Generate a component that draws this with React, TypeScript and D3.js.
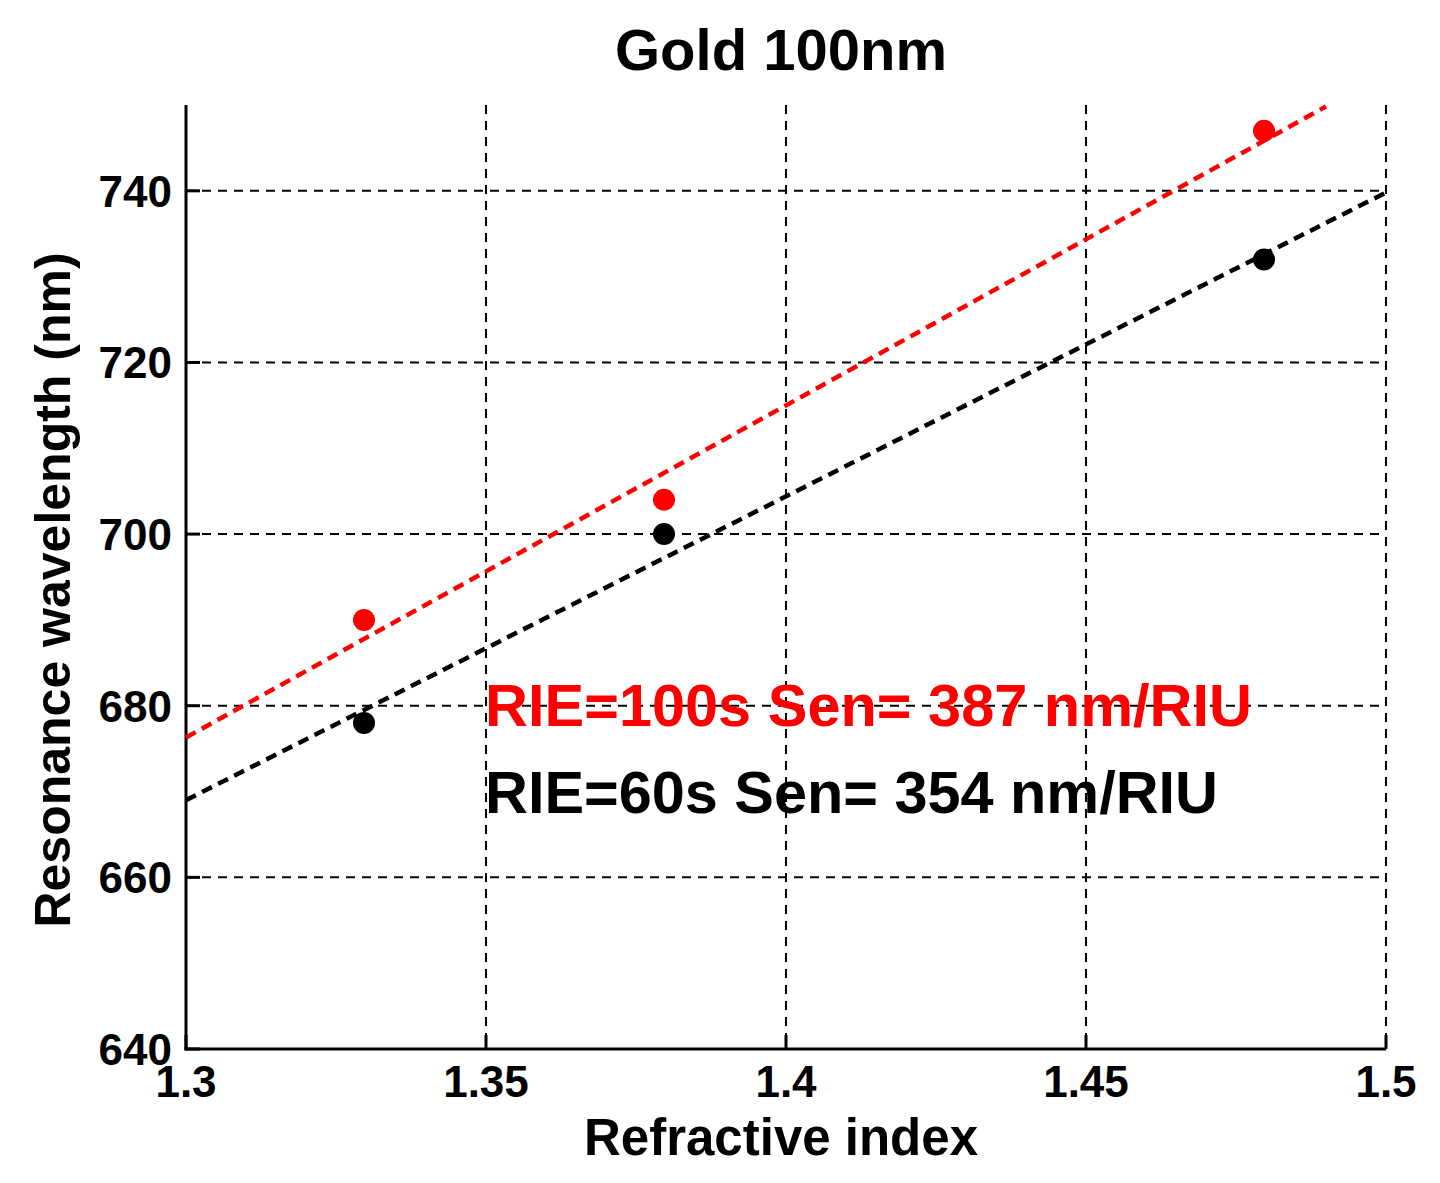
import * as d3 from 'd3';

// Refractive index samples
const refractiveIndex = [1.33, 1.38, 1.48];

// Measured resonance wavelength (nm)
const rie60 = [678, 700, 732];
const rie100 = [690, 704, 747];

// Linear fits: [intercept at 1.3, slope nm/RIU, end x]
const fit60 = { y0: 669, slope: 354, xEnd: 1.5 };
const fit100 = { y0: 676.3, slope: 387, xEnd: 1.49 };

const xTicks = [1.3, 1.35, 1.4, 1.45, 1.5];
const yTicks = [640, 660, 680, 700, 720, 740];

const labels = [
  { text: 'RIE=100s Sen= 387 nm/RIU', color: '#ff0000' },
  { text: 'RIE=60s Sen= 354 nm/RIU', color: '#000000' },
];

const W = 1440;
const H = 1183;
const margin = { top: 105, right: 54, bottom: 134, left: 186 };
const FONT = '"Liberation Sans", Arial, sans-serif';

export default function App() {
  const innerW = W - margin.left - margin.right;
  const innerH = H - margin.top - margin.bottom;

  const x = d3.scaleLinear().domain([1.3, 1.5]).range([0, innerW]);
  const y = d3.scaleLinear().domain([640, 750]).range([innerH, 0]);

  const fitLine = (f: { y0: number; slope: number; xEnd: number }) =>
    d3.line<number>()
      .x(d => x(d))
      .y(d => y(f.y0 + f.slope * (d - 1.3)))([1.3, f.xEnd]) || '';

  const series = [
    { values: rie100, fit: fit100, color: '#ff0000' },
    { values: rie60, fit: fit60, color: '#000000' },
  ];

  return (
    <svg
      width={W}
      height={H}
      style={{ position: 'absolute', left: 0, top: 0, background: 'white' }}
      fontFamily={FONT}
    >
      <rect width={W} height={H} fill="white" />
      <text
        x={margin.left + innerW / 2 - 5}
        y={70}
        textAnchor="middle"
        fontSize={58}
        fontWeight="bold"
      >
        Gold 100nm
      </text>

      <g transform={`translate(${margin.left},${margin.top})`}>
        {/* grid */}
        {xTicks.slice(1).map(t => (
          <line
            key={'gx' + t}
            x1={x(t)}
            x2={x(t)}
            y1={0}
            y2={innerH}
            stroke="black"
            strokeWidth={2}
            strokeDasharray="9,7"
          />
        ))}
        {yTicks.slice(1).map(t => (
          <line
            key={'gy' + t}
            x1={0}
            x2={innerW}
            y1={y(t)}
            y2={y(t)}
            stroke="black"
            strokeWidth={2}
            strokeDasharray="9,7"
          />
        ))}

        {/* ticks */}
        {xTicks.map(t => (
          <line key={'tx' + t} x1={x(t)} x2={x(t)} y1={innerH} y2={innerH - 14} stroke="black" strokeWidth={3} />
        ))}
        {yTicks.map(t => (
          <line key={'ty' + t} x1={0} x2={14} y1={y(t)} y2={y(t)} stroke="black" strokeWidth={3} />
        ))}

        {/* axes */}
        <line x1={0} x2={0} y1={0} y2={innerH + 1.5} stroke="black" strokeWidth={3} />
        <line x1={-1.5} x2={innerW} y1={innerH} y2={innerH} stroke="black" strokeWidth={3} />

        {/* fits and points */}
        {series.map((s, i) => (
          <g key={i}>
            <path
              d={fitLine(s.fit)}
              fill="none"
              stroke={s.color}
              strokeWidth={4.5}
              strokeDasharray="11,7"
            />
            {s.values.map((v, j) => (
              <circle key={j} cx={x(refractiveIndex[j]) - 2} cy={y(v)} r={11} fill={s.color} />
            ))}
          </g>
        ))}

        {/* tick labels */}
        {xTicks.map(t => (
          <text
            key={'lx' + t}
            x={x(t)}
            y={innerH + 48}
            textAnchor="middle"
            fontSize={44}
            fontWeight="bold"
          >
            {String(t)}
          </text>
        ))}
        {yTicks.map(t => (
          <text
            key={'ly' + t}
            x={-14}
            y={y(t) + 16}
            textAnchor="end"
            fontSize={44}
            fontWeight="bold"
          >
            {t}
          </text>
        ))}

        {/* annotations */}
        {labels.map((l, i) => (
          <text
            key={l.text}
            x={x(1.3) + 299}
            y={y(680) + 20 + i * 87}
            fill={l.color}
            fontSize={60}
            fontWeight="bold"
            textLength={i === 0 ? 767 : 733}
            lengthAdjust="spacingAndGlyphs"
          >
            {l.text}
          </text>
        ))}
      </g>

      <text
        x={margin.left + innerW / 2 - 5}
        y={1155}
        textAnchor="middle"
        fontSize={51}
        fontWeight="bold"
      >
        Refractive index
      </text>
      <text
        transform={`translate(70,${590}) rotate(-90)`}
        textAnchor="middle"
        fontSize={50}
        fontWeight="bold"
      >
        Resonance wavelength (nm)
      </text>
    </svg>
  );
}
